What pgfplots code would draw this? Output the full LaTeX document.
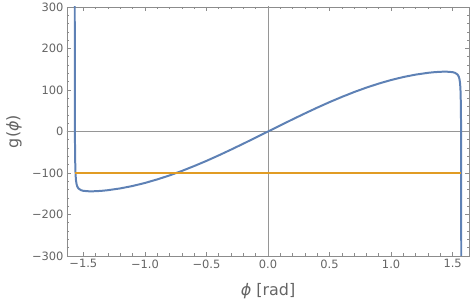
\documentclass[border=0pt]{standalone}
\usepackage{fontspec}
\setmainfont{DejaVu Sans}
\usepackage{pgfplots}
\pgfplotsset{compat=1.18}
\definecolor{mblue}{RGB}{94,129,181}
\definecolor{morange}{RGB}{225,156,36}
\definecolor{framegray}{RGB}{140,140,140}
\definecolor{labgray}{RGB}{100,100,100}
\definecolor{zerogray}{RGB}{150,150,150}
\begin{document}
\begin{tikzpicture}
\begin{axis}[
 scale only axis, width=402bp, height=249bp,
 xmin=-1.633, xmax=1.633, ymin=-300, ymax=300,
 axis line style={framegray, line width=0.8pt},
 xtick={-1.5,-1,-0.5,0,0.5,1,1.5},
 xticklabels={−1.5,−1.0,−0.5,0.0,0.5,1.0,1.5},
 minor x tick num=4,
 ytick={-300,-200,-100,0,100,200,300},
 yticklabels={−300,−200,−100,0,100,200,300},
 minor y tick num=4,
 tick align=inside,
 major tick length=4bp, minor tick length=2.5bp,
 tick style={framegray, line width=0.6pt},
 ticklabel style={font=\fontsize{11.5}{13}\selectfont, text=labgray},
 xlabel={\textit{ϕ} [rad]}, ylabel={g(\textit{ϕ})},
 every axis x label/.style={at={(axis description cs:0.5,-0.141)},anchor=center,font=\fontsize{16}{19}\selectfont, text=labgray},
 every axis y label/.style={at={(axis description cs:-0.132,0.5)},anchor=center,rotate=90,font=\fontsize{16}{19}\selectfont, text=labgray},
 clip=true,
]
\addplot[zerogray, line width=0.6pt] coordinates {(-1.7,0) (1.7,0)};
\addplot[zerogray, line width=0.6pt] coordinates {(0,-320) (0,320)};
\addplot[mblue, line width=2pt, line join=round] coordinates {
(-1.5705,967) (-1.5702,405.7) (-1.5700,266.5) (-1.5695,106.6) (-1.569,35.7)
(-1.568,-30.0) (-1.567,-61.1) (-1.565,-91.1) (-1.563,-105.7) (-1.56,-117.4)
(-1.555,-127.1) (-1.55,-132.1) (-1.54,-137.2) (-1.52,-141.3) (-1.5,-143.0)
(-1.45,-144.2) (-1.4,-143.9) (-1.35,-142.9) (-1.3,-141.4) (-1.2,-137.1)
(-1.1,-131.3) (-1.0,-124.0) (-0.9,-115.5) (-0.8,-105.8) (-0.7,-95.1)
(-0.6,-83.3) (-0.5,-70.8) (-0.4,-57.5) (-0.3,-43.6) (-0.2,-29.3) (-0.1,-14.7)
(0,0)
(0.1,14.7) (0.2,29.3) (0.3,43.6) (0.4,57.5) (0.5,70.8) (0.6,83.3) (0.7,95.1)
(0.8,105.8) (0.9,115.5) (1.0,124.0) (1.1,131.3) (1.2,137.1) (1.3,141.4)
(1.35,142.9) (1.4,143.9) (1.45,144.2) (1.5,143.0) (1.52,141.3) (1.54,137.2)
(1.55,132.1) (1.555,127.1) (1.56,117.4) (1.563,105.7) (1.565,91.1)
(1.567,61.1) (1.568,30.0) (1.569,-35.7) (1.5695,-106.6) (1.5700,-266.5)
(1.5702,-405.7) (1.5705,-967)
};
\addplot[morange, line width=2pt] coordinates {(-1.5708,-100) (1.5708,-100)};
\end{axis}
\pgfresetboundingbox
\path (-67bp,-51bp) rectangle (404bp,256bp);
\end{tikzpicture}
\end{document}
